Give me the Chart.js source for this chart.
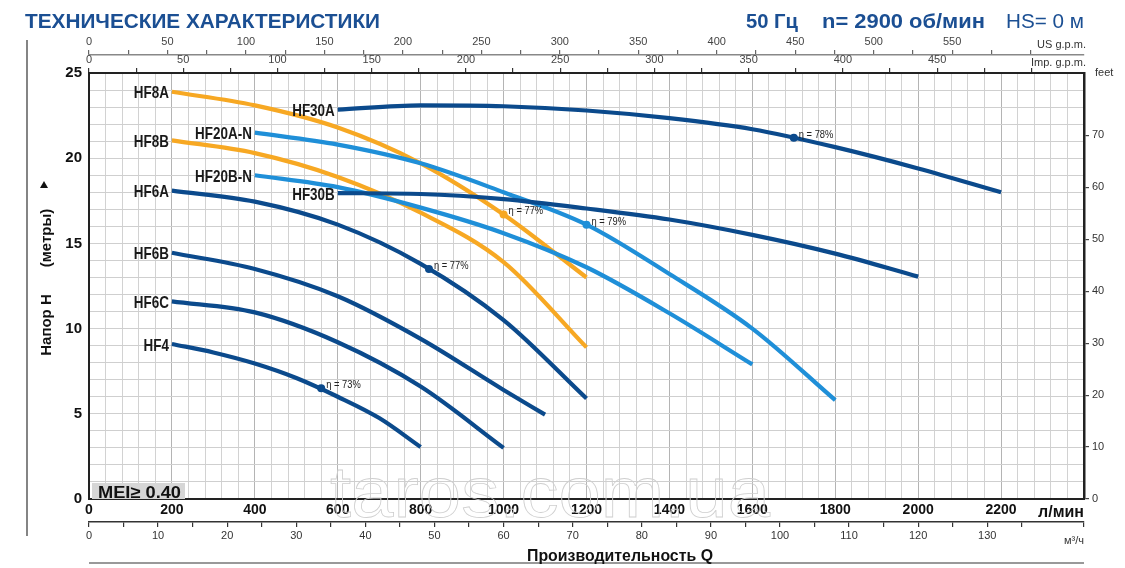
<!DOCTYPE html>
<html>
<head>
<meta charset="utf-8">
<script src="https://cdn.jsdelivr.net/npm/chart.js@4"></script>
<style>
html, body { margin: 0; padding: 0; background: #fff; }
#wrap { width: 1125px; height: 568px; position: relative; }
</style>
</head>
<body>
<div id="wrap"><canvas id="chart_pump"></canvas></div>
<script>
// flow in l/min, head in m
var hf4Q = [200, 300, 400, 500, 600, 700, 800];
var hf4H = [9.1, 8.6, 7.95, 7.1, 6.0, 4.75, 3.05];
var hf6cQ = [200, 400, 600, 800, 1000];
var hf6cH = [11.6, 10.95, 9.2, 6.6, 3.0];
var hf6bQ = [200, 400, 600, 800, 1000, 1100];
var hf6bH = [14.45, 13.5, 11.9, 9.4, 6.4, 4.95];
var hf6aQ = [200, 400, 600, 800, 1000, 1200];
var hf6aH = [18.1, 17.45, 16.1, 13.8, 10.5, 5.9];
var hf8aQ = [200, 400, 600, 800, 1000, 1200];
var hf8aH = [23.9, 23.1, 21.8, 19.7, 16.7, 13.0];
var hf8bQ = [200, 400, 600, 800, 1000, 1200];
var hf8bH = [21.05, 20.3, 18.9, 16.8, 13.9, 8.9];
var hf20aQ = [400, 600, 800, 1000, 1200, 1400, 1600, 1800];
var hf20aH = [21.5, 20.8, 19.7, 18.0, 16.1, 13.2, 10.0, 5.8];
var hf20bQ = [400, 600, 800, 1000, 1200, 1400, 1600];
var hf20bH = [19.0, 18.3, 17.1, 15.6, 13.6, 10.9, 7.9];
var hf30aQ = [600, 800, 1000, 1200, 1400, 1600, 1800, 2000, 2200];
var hf30aH = [22.85, 23.1, 23.05, 22.8, 22.35, 21.7, 20.65, 19.4, 18.0];
var hf30bQ = [600, 800, 1000, 1200, 1400, 1600, 1800, 2000];
var hf30bH = [17.95, 17.9, 17.6, 17.05, 16.4, 15.5, 14.4, 13.05];

// efficiency points
var etaQ = [560, 820, 1000, 1200, 1700];
var etaH = [6.5, 13.5, 16.7, 16.1, 21.2];
var etaText = ['η = 73%', 'η = 77%', 'η = 77%', 'η = 79%', 'η = 78%'];

var DARK = '#0b4a8c', LIGHT = '#1f8fd8', ORANGE = '#f7a823';
var etaColor = [DARK, DARK, ORANGE, LIGHT, DARK];

var curves = [
    {name: 'HF30A', q: hf30aQ, h: hf30aH, color: DARK},
    {name: 'HF30B', q: hf30bQ, h: hf30bH, color: DARK},
    {name: 'HF20A-N', q: hf20aQ, h: hf20aH, color: LIGHT},
    {name: 'HF20B-N', q: hf20bQ, h: hf20bH, color: LIGHT},
    {name: 'HF8A', q: hf8aQ, h: hf8aH, color: ORANGE},
    {name: 'HF8B', q: hf8bQ, h: hf8bH, color: ORANGE},
    {name: 'HF6A', q: hf6aQ, h: hf6aH, color: DARK},
    {name: 'HF6B', q: hf6bQ, h: hf6bH, color: DARK},
    {name: 'HF6C', q: hf6cQ, h: hf6cH, color: DARK},
    {name: 'HF4', q: hf4Q, h: hf4H, color: DARK}
];

var Q_MAX = 2400, H_MAX = 25;
var FONT = '"Liberation Sans", Arial, sans-serif';

function pts(qs, hs) {
    return qs.map(function (q, i) { return {x: q, y: hs[i]}; });
}

var datasets = curves.map(function (c) {
    return {label: c.name, data: pts(c.q, c.h), borderColor: c.color, borderWidth: 4.2,
        pointRadius: 0, fill: false, cubicInterpolationMode: 'monotone', borderCapStyle: 'butt'};
});
etaQ.forEach(function (q, i) {
    datasets.push({label: etaText[i], data: [{x: q, y: etaH[i]}], showLine: false,
        pointRadius: 4, pointBackgroundColor: etaColor[i], pointBorderWidth: 0});
});

// draw text squeezed to a given width
function fitText(ctx, txt, x, y, w, font, color, align) {
    ctx.save();
    ctx.font = font;
    ctx.fillStyle = color;
    ctx.textBaseline = 'alphabetic';
    var m = ctx.measureText(txt).width;
    ctx.translate(x, y);
    ctx.scale(w / m, 1);
    ctx.textAlign = align || 'left';
    ctx.fillText(txt, 0, 0);
    ctx.restore();
}

// narrow text: plain font squeezed by a fixed factor
function narrowText(ctx, txt, x, y, k) {
    ctx.save();
    ctx.translate(x, y);
    ctx.scale(k, 1);
    ctx.fillText(txt, 0, 0);
    ctx.restore();
}

var decor = {
    id: 'decor',
    beforeDraw: function (chart) {
        var ctx = chart.ctx;
        ctx.save();
        ctx.fillStyle = '#fff';
        ctx.fillRect(0, 0, chart.width, chart.height);
        ctx.restore();
    },
    beforeDatasetsDraw: function (chart) {
        var ctx = chart.ctx;
        // watermark, outline only
        ctx.save();
        ctx.font = '72px ' + FONT;
        ctx.textBaseline = 'alphabetic';
        ctx.lineWidth = 0.8;
        ctx.strokeStyle = '#cfcfcf';
        var wm = 'taros.com.ua';
        var m = ctx.measureText(wm).width;
        ctx.translate(330, 517);
        ctx.scale(440 / m, 1);
        ctx.strokeText(wm, 0, 0);
        ctx.restore();
    },
    afterDraw: function (chart) {
        var ctx = chart.ctx, xs = chart.scales.x, ys = chart.scales.y;
        var blue = '#1b4f93';
        fitText(ctx, 'ТЕХНИЧЕСКИЕ ХАРАКТЕРИСТИКИ', 25, 28, 355, 'bold 21px ' + FONT, blue);
        fitText(ctx, '50 Гц', 746, 28, 52, 'bold 21px ' + FONT, blue);
        fitText(ctx, 'n= 2900 об/мин', 822, 28, 163, 'bold 21px ' + FONT, blue);
        fitText(ctx, 'HS= 0 м', 1006, 28, 78, '21px ' + FONT, blue);

        // frame line on the left
        ctx.save();
        ctx.strokeStyle = '#333';
        ctx.lineWidth = 1.2;
        ctx.beginPath();
        ctx.moveTo(27, 40);
        ctx.lineTo(27, 536);
        ctx.stroke();
        // line under the x title
        ctx.strokeStyle = '#777';
        ctx.lineWidth = 1.5;
        ctx.beginPath();
        ctx.moveTo(89, 563);
        ctx.lineTo(1084, 563);
        ctx.stroke();
        ctx.restore();

        // unit texts
        ctx.save();
        ctx.fillStyle = '#333';
        ctx.font = '11px ' + FONT;
        ctx.textAlign = 'right';
        ctx.textBaseline = 'middle';
        ctx.fillText('US g.p.m.', 1086, 45);
        ctx.fillText('Imp. g.p.m.', 1086, 63);
        ctx.fillText('м³/ч', 1084, 541);
        ctx.textAlign = 'left';
        ctx.fillText('feet', 1095, 73);
        ctx.fillStyle = '#111';
        ctx.font = 'bold 16px ' + FONT;
        ctx.textAlign = 'right';
        ctx.fillText('л/мин', 1084, 513);
        ctx.restore();
        fitText(ctx, 'Производительность Q', 620, 561, 186, 'bold 17px ' + FONT, '#111', 'center');

        // y title, rotated
        ctx.save();
        ctx.translate(51, 0);
        ctx.rotate(-Math.PI / 2);
        ctx.fillStyle = '#111';
        ctx.font = 'bold 15px ' + FONT;
        ctx.textAlign = 'center';
        ctx.textBaseline = 'alphabetic';
        ctx.fillText('Напор H', -325, 0);
        ctx.fillText('(метры)', -238, 0);
        ctx.restore();
        ctx.save();
        ctx.fillStyle = '#111';
        ctx.beginPath();
        ctx.moveTo(44, 181);
        ctx.lineTo(48, 188);
        ctx.lineTo(40, 188);
        ctx.closePath();
        ctx.fill();
        ctx.restore();

        // MEI box
        ctx.save();
        ctx.fillStyle = '#d6d6d6';
        ctx.fillRect(92, 483, 93, 16);
        ctx.restore();
        fitText(ctx, 'MEI≥ 0.40', 98, 498, 83, 'bold 17px ' + FONT, '#111');

        // curve names at their first point
        ctx.save();
        ctx.fillStyle = '#1a1a1a';
        ctx.font = 'bold 17px ' + FONT;
        ctx.textAlign = 'right';
        ctx.textBaseline = 'middle';
        curves.forEach(function (c) {
            var px = xs.getPixelForValue(c.q[0]);
            var py = ys.getPixelForValue(c.h[0]);
            narrowText(ctx, c.name, px - 3, py + 2, 0.79);
        });
        ctx.restore();

        // efficiency labels
        ctx.save();
        ctx.fillStyle = '#222';
        ctx.font = '11px ' + FONT;
        ctx.textAlign = 'left';
        ctx.textBaseline = 'middle';
        etaQ.forEach(function (q, i) {
            var px = xs.getPixelForValue(q);
            var py = ys.getPixelForValue(etaH[i]);
            narrowText(ctx, etaText[i], px + 5, py - 3, 0.85);
        });
        ctx.restore();
    }
};

function fixH(h) { return function (s) { s.height = h; }; }
function fixW(w) { return function (s) { s.width = w; }; }
function onlyInts(s) { s.ticks = s.ticks.filter(function (t) { return Math.abs(t.value - Math.round(t.value)) < 1e-6; }); }

var ctx = document.getElementById('chart_pump').getContext('2d');
var chart = new Chart(ctx, {
    type: 'line',
    data: {datasets: datasets},
    plugins: [decor],
    options: {
        responsive: true,
        maintainAspectRatio: false,
        animation: false,
        devicePixelRatio: 1,
        layout: {padding: {left: 55, right: 10, top: 36, bottom: 24}},
        plugins: {legend: {display: false}, tooltip: {enabled: false}},
        scales: {
            x: {
                type: 'linear', position: 'bottom', min: 0, max: Q_MAX, weight: 0,
                afterFit: fixH(23),
                ticks: {stepSize: 40, autoSkip: false, maxRotation: 0, padding: 3, color: '#111',
                    font: {family: FONT, size: 14, weight: 'bold'},
                    callback: function (v) { return (v % 200 === 0 && v < 2400) ? v : ''; }},
                grid: {drawTicks: false, lineWidth: 1,
                    color: function (c) { return (c.tick && c.tick.value % 200 === 0) ? '#b4b4b4' : '#d2d2d2'; }},
                border: {color: '#222', width: 2}
            },
            m3h: {
                type: 'linear', position: 'bottom', min: 0, max: Q_MAX * 0.06, weight: 1,
                afterFit: fixH(22), afterBuildTicks: onlyInts,
                ticks: {stepSize: 5, autoSkip: false, maxRotation: 0, padding: 2, color: '#333',
                    font: {family: FONT, size: 11},
                    callback: function (v) { return (v % 10 === 0 && v <= 130) ? v : ''; }},
                grid: {drawOnChartArea: false, tickLength: 5, color: '#333', lineWidth: 1.2},
                border: {color: '#333', width: 1.5}
            },
            us: {
                type: 'linear', position: 'top', min: 0, max: Q_MAX / 3.78541, weight: 2,
                afterFit: fixH(19), afterBuildTicks: onlyInts,
                ticks: {stepSize: 25, autoSkip: false, maxRotation: 0, padding: 1, color: '#444',
                    font: {family: FONT, size: 11},
                    callback: function (v) { return (v % 50 === 0 && v <= 550) ? v : ''; }},
                grid: {drawOnChartArea: false, tickLength: 5, color: '#666', lineWidth: 1.2},
                border: {color: '#888', width: 1.5}
            },
            imp: {
                type: 'linear', position: 'top', min: 0, max: Q_MAX / 4.54609, weight: 1,
                afterFit: fixH(18), afterBuildTicks: onlyInts,
                ticks: {stepSize: 25, autoSkip: false, maxRotation: 0, padding: 1, color: '#444',
                    font: {family: FONT, size: 11},
                    callback: function (v) { return (v % 50 === 0 && v <= 450) ? v : ''; }},
                grid: {drawOnChartArea: false, tickLength: 5, color: '#333', lineWidth: 1.2},
                border: {color: '#222', width: 2}
            },
            y: {
                type: 'linear', position: 'left', min: 0, max: H_MAX,
                afterFit: fixW(34),
                ticks: {stepSize: 1, autoSkip: false, padding: 7, color: '#111',
                    font: {family: FONT, size: 15, weight: 'bold'},
                    callback: function (v) { return v % 5 === 0 ? v : ''; }},
                grid: {drawTicks: false, lineWidth: 1, color: '#cfcfcf'},
                border: {color: '#222', width: 2}
            },
            feet: {
                type: 'linear', position: 'right', min: 0, max: H_MAX / 0.3048,
                afterFit: fixW(31), afterBuildTicks: onlyInts,
                ticks: {stepSize: 10, autoSkip: false, padding: 3, color: '#333',
                    font: {family: FONT, size: 11}},
                grid: {drawOnChartArea: false, tickLength: 5, color: '#444', lineWidth: 1.2},
                border: {color: '#222', width: 2.5}
            }
        }
    }
});
</script>
</body>
</html>
